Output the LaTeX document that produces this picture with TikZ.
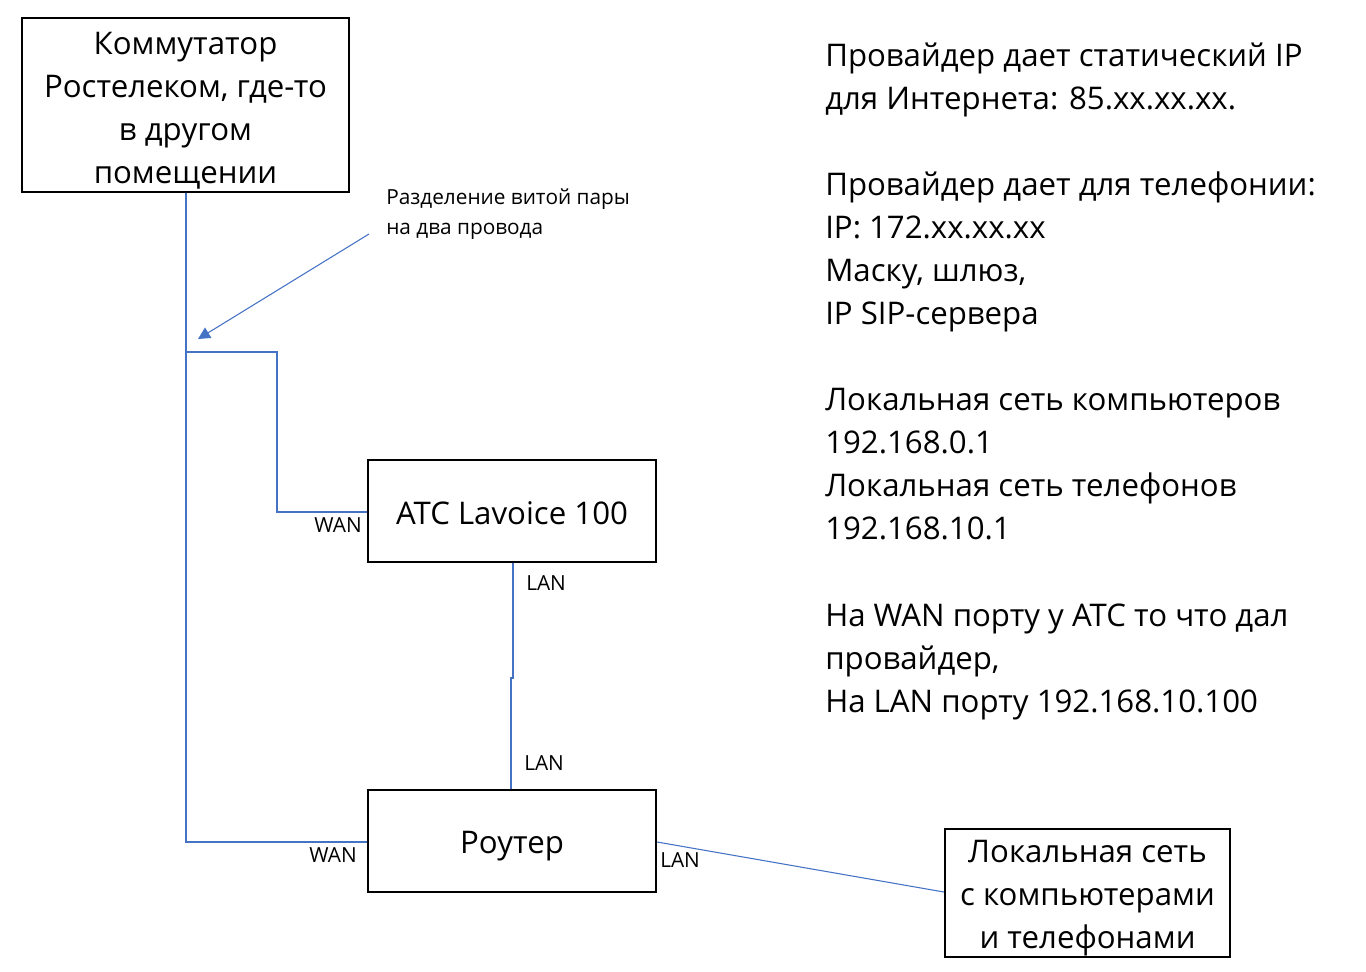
\documentclass[tikz,border=0pt]{standalone}
\usepackage{fontspec}
\setmainfont{Open Sans}
\usetikzlibrary{arrows.meta}
\definecolor{lineblue}{HTML}{4472C4}
\tikzset{
  box/.style={draw=black, line width=1.6pt, inner sep=0pt},
  boxtext/.style={align=center, inner sep=0pt, font=\fontsize{23.4}{32.25}\selectfont},
  big/.style={anchor=base west, inner sep=0pt, font=\fontsize{23.4}{32.25}\selectfont},
  small/.style={inner sep=0pt, font=\fontsize{15.6}{22.5}\selectfont},
  wire/.style={draw=lineblue, line width=0.8pt},
}
\begin{document}
\begin{tikzpicture}[x=0.75pt, y=-0.75pt]
\useasboundingbox (0,0) rectangle (1366,971);

\node[box, minimum width=327*0.75pt, minimum height=174*0.75pt] (sw) at (185.5,105) {};
\node[box, minimum width=288*0.75pt, minimum height=102*0.75pt] (atc) at (512,511) {};
\node[box, minimum width=288*0.75pt, minimum height=102*0.75pt] (rt) at (512,841) {};
\node[box, minimum width=285*0.75pt, minimum height=128*0.75pt] (lan) at (1087.5,893) {};

\node[boxtext] (swt) at ([yshift=-4.5pt]sw.center) {Коммутатор\\Ростелеком, где-то\\в другом\\помещении};
\node[boxtext] (atct) at ([yshift=-1.5pt]atc.center) {ATC Lavoice 100};
\node[boxtext] (rtt) at ([yshift=-4pt]rt.center) {Роутер};
\node[boxtext] (lant) at ([yshift=-4pt]lan.center) {Локальная сеть\\с компьютерами\\и телефонами};

% wires
\coordinate (split) at (186,352);
\draw[wire] (sw.south -| split) -- (split) -- (186,842) -- (rt.west |- 186,842);
\draw[wire] (split) -- (277,352) -- (277,512) -- (atc.west |- 277,512);
\draw[wire] (atc.south -| 513,0) -- (513,678) -- (511,678) -- (rt.north -| 511,0);
\draw[wire] (rt.east |- 0,842) -- (lan.west |- 0,892);

% annotation arrow
\coordinate (arrS) at (369,234);
\coordinate (arrE) at (198,339);
\draw[wire, -{Triangle[width=9pt,length=9pt]}] (arrS) -- (arrE);
\node[small, anchor=base west] (note1) at (386,204) {Разделение витой пары};
\node[small, anchor=base west] (note2) at (386,234) {на два провода};

% port labels
\node[small, anchor=base east] (l1) at (362,532) {WAN};
\node[small, anchor=base west] (l2) at (526,590) {LAN};
\node[small, anchor=base west] (l3) at (524,770) {LAN};
\node[small, anchor=base east] (l4) at (357,862) {WAN};
\node[small, anchor=base west] (l5) at (660,867) {LAN};

% right-hand notes
\node[big] (r1) at (825,66) {Провайдер дает статический IP};
\node[big] (r2) at (825,109) {для Интернета: 85.xx.xx.xx.};
\node[big] (r3) at (825,195) {Провайдер дает для телефонии:};
\node[big] (r4) at (825,238) {IP: 172.xx.xx.xx};
\node[big] (r5) at (825,281) {Маску, шлюз,};
\node[big] (r6) at (825,324) {IP SIP-сервера};
\node[big] (r7) at (825,410) {Локальная сеть компьютеров};
\node[big] (r8) at (825,453) {192.168.0.1};
\node[big] (r9) at (825,496) {Локальная сеть телефонов};
\node[big] (r10) at (825,539) {192.168.10.1};
\node[big] (r11) at (825,626) {На WAN порту у АТС то что дал};
\node[big] (r12) at (825,669) {провайдер,};
\node[big] (r13) at (825,712) {На LAN порту 192.168.10.100};
\end{tikzpicture}
\end{document}
